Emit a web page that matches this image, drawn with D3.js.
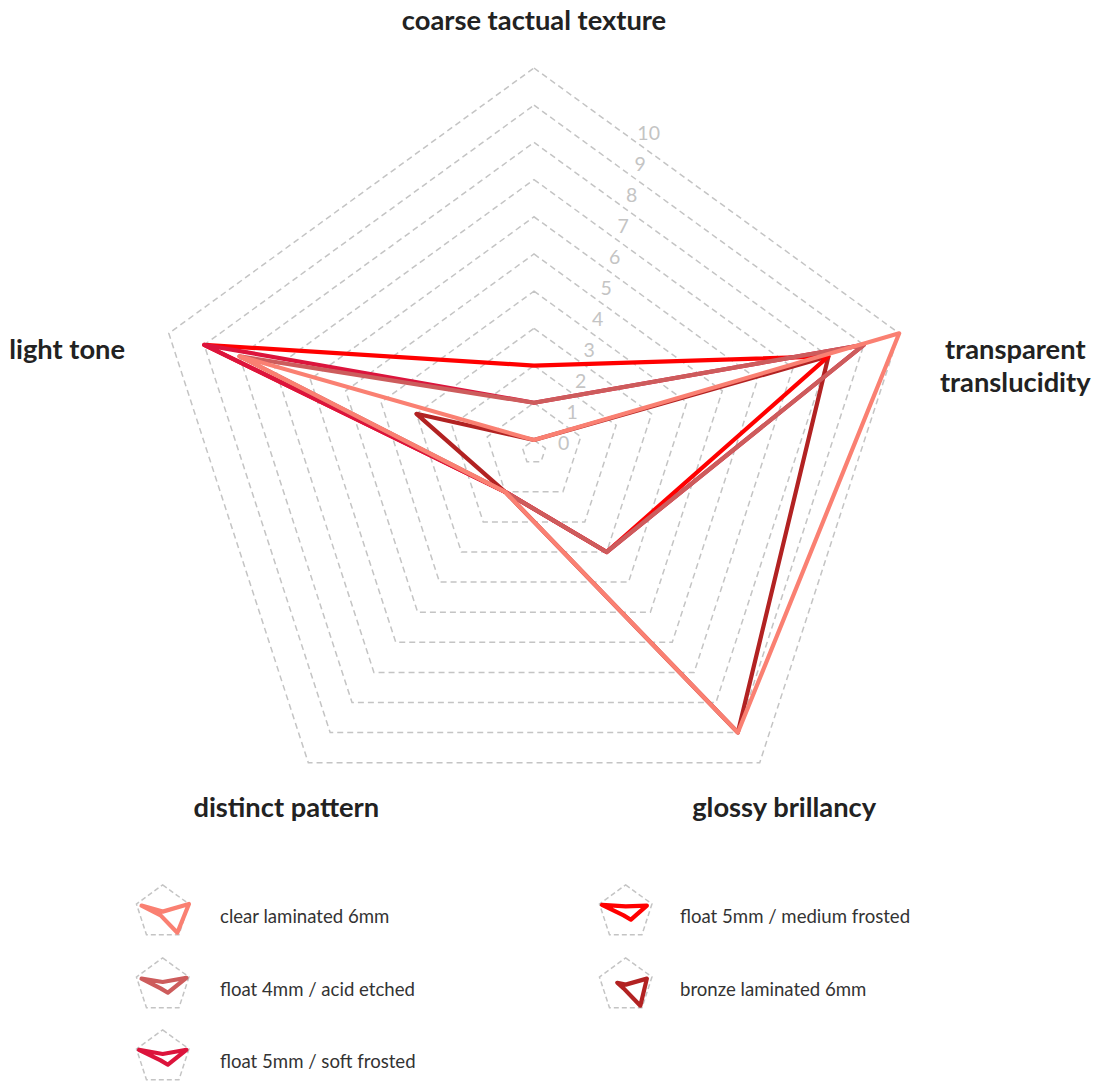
<!DOCTYPE html>
<html>
<head>
<meta charset="utf-8">
<script src="https://cdn.jsdelivr.net/npm/d3@7"></script>
<style>
  html, body { margin: 0; padding: 0; background: #ffffff; }
  svg { display: block; font-family: Lato, "Noto Sans", sans-serif; }
</style>
</head>
<body>
<svg id="chart" width="1099" height="1083"></svg>
<script>
// Glass samples rated on five perceptual attributes (0–10)
const axes = ["coarse tactual texture", "transparent translucidity", "glossy brillancy", "distinct pattern", "light tone"];
const axisLabelLines = [["coarse tactual texture"], ["transparent", "translucidity"], ["glossy brillancy"], ["distinct pattern"], ["light tone"]];
const seriesNames = ["clear laminated 6mm", "float 4mm / acid etched", "float 5mm / soft frosted", "float 5mm / medium frosted", "bronze laminated 6mm"];
const seriesColors = ["#fa8072", "#cd5c5c", "#dc143c", "#ff0000", "#b22222"];
const clearLaminated6 = [0, 10, 9, 1, 8];
const float4AcidEtched = [1, 9, 3, 1, 8];
const float5SoftFrosted = [1, 9, 3, 1, 9];
const float5MediumFrosted = [2, 8, 3, 1, 9];
const bronzeLaminated6 = [0, 8, 9, 1, 3];
const seriesValues = [clearLaminated6, float4AcidEtched, float5SoftFrosted, float5MediumFrosted, bronzeLaminated6];
const levels = [0, 1, 2, 3, 4, 5, 6, 7, 8, 9, 10];

const svg = d3.select("#chart");
const cx = 534, cy = 452;
const outerR = 384;
const n = axes.length;
const angle = i => i * 2 * Math.PI / n;

const r = d3.scaleLinear().domain([0, 10]).range([12, outerR]);

const radial = scale => d3.lineRadial()
  .angle((d, i) => angle(i))
  .radius(d => scale(d))
  .curve(d3.curveLinearClosed);

const plot = svg.append("g").attr("transform", `translate(${cx},${cy})`);

// dashed grid rings
plot.append("g").selectAll("path")
  .data(levels)
  .join("path")
  .attr("d", v => radial(r)(axes.map(() => v)))
  .attr("fill", "none")
  .attr("stroke", "#c4c4c4")
  .attr("stroke-width", 1.5)
  .attr("stroke-dasharray", "6,4");

// level labels, placed along the upper-right edge of each ring
const t = 0.24;
plot.append("g").selectAll("text")
  .data(levels)
  .join("text")
  .attr("x", v => r(v) * Math.sin(2 * Math.PI / n) * t + 27)
  .attr("y", v => -r(v) + r(v) * (1 - Math.cos(2 * Math.PI / n)) * t + 0.5)
  .attr("text-anchor", "middle")
  .attr("dominant-baseline", "central")
  .attr("font-size", 19.5)
  .attr("fill", "#c4c4c4")
  .text(v => v);

// series outlines (first series drawn last, on top)
const order = d3.range(seriesValues.length).reverse();
plot.append("g").selectAll("path")
  .data(order)
  .join("path")
  .attr("d", i => radial(r)(seriesValues[i]))
  .attr("fill", "none")
  .attr("stroke", i => seriesColors[i])
  .attr("stroke-width", 4.2)
  .attr("stroke-linejoin", "round");

// axis titles
const labelR = 430;
const lineH = 33;
axes.forEach((name, i) => {
  const a = angle(i);
  const px = labelR * Math.sin(a), py = -labelR * Math.cos(a);
  const g = plot.append("g");
  const txt = g.append("text")
    .attr("text-anchor", "middle")
    .attr("font-size", 27.3)
    .attr("font-weight", 700)
    .attr("fill", "#222222");
  const lines = axisLabelLines[i];
  lines.forEach((ln, k) => {
    txt.append("tspan").attr("x", 0).attr("y", k * lineH).attr("dominant-baseline", "central").text(ln);
  });
  let w = 0;
  txt.selectAll("tspan").each(function () { w = Math.max(w, this.getComputedTextLength()); });
  let x = px, y;
  if (Math.abs(px) > 50) {
    const side = px > 0 ? 1 : -1;
    if (py < 0) { x = px + side * w / 2 - 1.5 - side * 1.5; y = py + 29; }
    else { x = px * 0.985 + 1.2; y = py + 7; }
  } else {
    y = py - 3;
  }
  g.attr("transform", `translate(${x},${y})`);
});

// legend
const legendCols = [{ icon: 162.7, text: 220 }, { icon: 625.7, text: 680 }];
const legendRowY = [916, 989, 1061];
const iconR = 27.6;
const ri = d3.scaleLinear().domain([0, 10]).range([iconR * 12 / outerR, iconR]);
const legend = svg.append("g");
seriesNames.forEach((name, i) => {
  const col = i < 3 ? 0 : 1;
  const row = i < 3 ? i : i - 3;
  const y = legendRowY[row];
  const ig = legend.append("g").attr("transform", `translate(${legendCols[col].icon},${y - 3.5})`);
  ig.append("path")
    .attr("d", radial(ri)(axes.map(() => 10)))
    .attr("fill", "none")
    .attr("stroke", "#c4c4c4")
    .attr("stroke-width", 1.5)
    .attr("stroke-dasharray", "5,3");
  ig.append("path")
    .attr("d", radial(ri)(seriesValues[i]))
    .attr("fill", "none")
    .attr("stroke", seriesColors[i])
    .attr("stroke-width", 4.2)
    .attr("stroke-linejoin", "round");
  legend.append("text")
    .attr("x", legendCols[col].text)
    .attr("y", y)
    .attr("dominant-baseline", "central")
    .attr("font-size", 18.6)
    .attr("fill", "#333333")
    .text(name);
});
</script>
</body>
</html>
